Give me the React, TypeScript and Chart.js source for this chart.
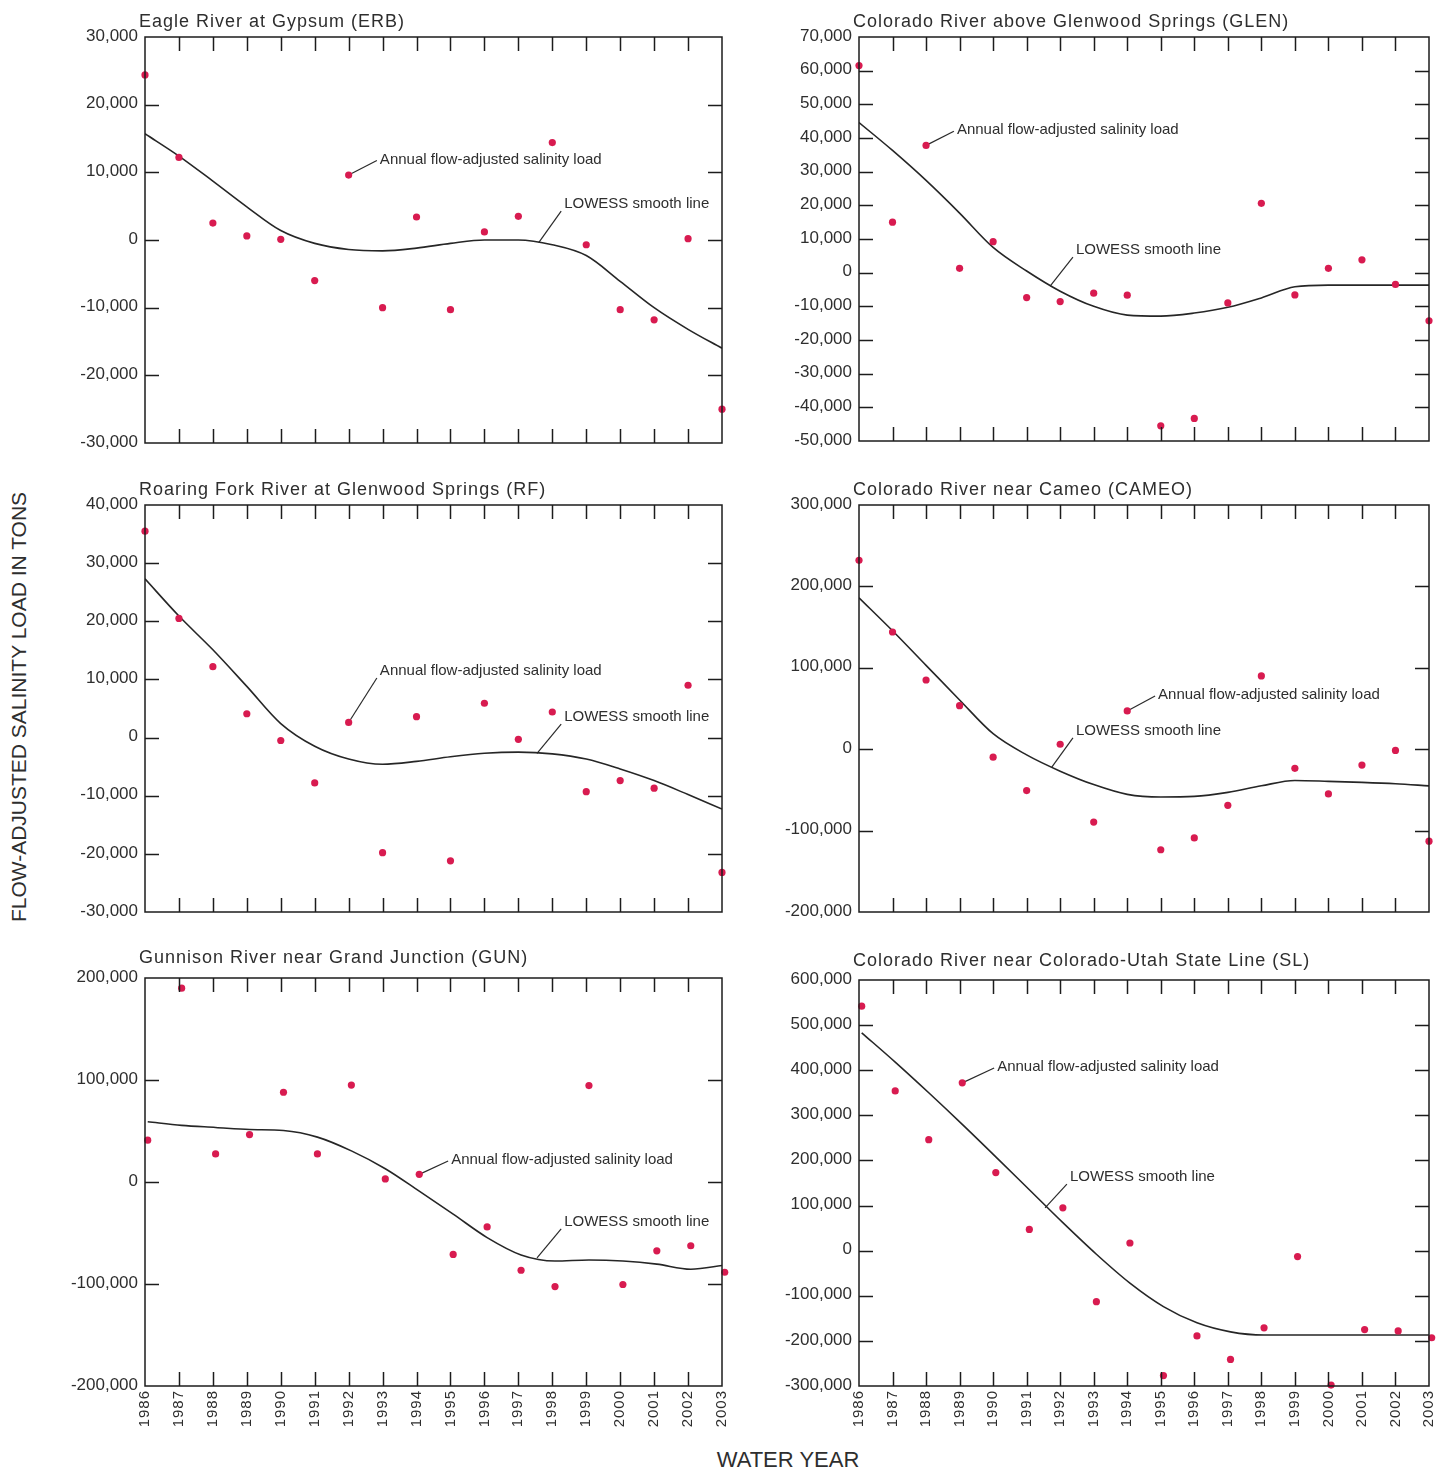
import React, { useEffect, useRef } from "react";
import { Chart, registerables } from "chart.js";

Chart.register(...registerables);

// ---------------- data ----------------
const years = [1986, 1987, 1988, 1989, 1990, 1991, 1992, 1993, 1994, 1995, 1996, 1997, 1998, 1999, 2000, 2001, 2002, 2003];

const erbLoad = [24400, 12200, 2500, 600, 100, -6000, 9600, -10000, 3400, -10300, 1200, 3500, 14400, -700, -10300, -11800, 200, -25000];
const erbLowess = [15700, 12400, 8700, 4900, 1400, -500, -1400, -1600, -1200, -500, 0, 0, -700, -2300, -6100, -10000, -13200, -16000];

const glenLoad = [61500, 15000, 37800, 1300, 9200, -7400, -8600, -6100, -6700, -45500, -43300, -9000, 20600, -6600, 1300, 3800, -3500, -14300];
const glenLowess = [44600, 36300, 27400, 17700, 7500, 500, -5500, -10000, -12600, -12900, -12000, -10300, -7500, -4200, -3700, -3700, -3700, -3700];

const rfLoad = [35500, 20500, 12200, 4100, -500, -7800, 2600, -19800, 3600, -21200, 5900, -300, 4400, -9300, -7400, -8700, 9000, -23200];
const rfLowess = [27300, 20900, 15100, 8800, 2400, -1500, -3700, -4600, -4100, -3300, -2700, -2500, -2800, -3700, -5400, -7400, -9800, -12300];

const cameoLoad = [232000, 144000, 85000, 53500, -9800, -50800, 6100, -89500, 47000, -123500, -109000, -69000, 90000, -23500, -55000, -19500, -1500, -113000];
const cameoLowess = [186000, 145500, 103000, 60500, 19000, -7000, -27000, -43500, -55500, -58800, -58000, -53000, -45000, -38500, -39500, -40800, -42500, -45000];

const gunLoad = [41000, 190000, 27500, 46500, 88000, 27500, 95000, 3000, 7500, -71000, -44000, -86500, -102500, 94500, -100500, -67500, -62500, -88500];
const gunLowess = [59000, 55500, 53500, 51500, 50500, 44000, 30500, 13000, -9000, -31500, -54500, -71500, -77500, -76500, -77500, -80500, -85500, -81500];

const slLoad = [542000, 354000, 246000, 372000, 173000, 47000, 95000, -113000, 17000, -277000, -189000, -241000, -171000, -13000, -298000, -175000, -178000, -193000];
const slLowess = [483000, 418000, 350000, 280000, 208000, 135000, 62000, -8000, -72000, -124000, -160000, -180000, -187000, -187000, -187000, -187000, -187000, -187000];

const LOAD_LABEL = "Annual flow-adjusted salinity load";
const LOWESS_LABEL = "LOWESS smooth line";

type Note = { text: string; tx: number; ty: number; px: number; py: number; from: "mid" | "bottom" };

const erbNotes: Note[] = [
  { text: LOAD_LABEL, tx: 1992.92, ty: 11900, px: 1992, py: 9600, from: "mid" },
  { text: LOWESS_LABEL, tx: 1998.35, ty: 5300, px: 1997.6, py: -400, from: "bottom" },
];
const glenNotes: Note[] = [
  { text: LOAD_LABEL, tx: 1988.92, ty: 42300, px: 1988, py: 37800, from: "mid" },
  { text: LOWESS_LABEL, tx: 1992.47, ty: 6700, px: 1991.7, py: -4000, from: "bottom" },
];
const rfNotes: Note[] = [
  { text: LOAD_LABEL, tx: 1992.92, ty: 11450, px: 1992, py: 2600, from: "bottom" },
  { text: LOWESS_LABEL, tx: 1998.35, ty: 3500, px: 1997.55, py: -2700, from: "bottom" },
];
const cameoNotes: Note[] = [
  { text: LOAD_LABEL, tx: 1994.92, ty: 66600, px: 1994, py: 47000, from: "mid" },
  { text: LOWESS_LABEL, tx: 1992.47, ty: 22400, px: 1991.75, py: -22000, from: "bottom" },
];
const gunNotes: Note[] = [
  { text: LOAD_LABEL, tx: 1995.02, ty: 21600, px: 1994.08, py: 7500, from: "mid" },
  { text: LOWESS_LABEL, tx: 1998.35, ty: -39200, px: 1997.55, py: -74500, from: "bottom" },
];
const slNotes: Note[] = [
  { text: LOAD_LABEL, tx: 1990.12, ty: 407000, px: 1989.08, py: 372000, from: "mid" },
  { text: LOWESS_LABEL, tx: 1992.29, ty: 163000, px: 1991.55, py: 95000, from: "bottom" },
];

// ---------------- layout / style ----------------
type Box = { left: number; top: number; right: number; bottom: number };
type PanelDef = {
  title: string;
  load: number[];
  lowess: number[];
  yMin: number;
  yMax: number;
  yStep: number;
  shift: number;
  notes: Note[];
  box: Box;
  showYears: boolean;
  titleDy: number;
};

const panels: PanelDef[] = [
  { title: "Eagle River at Gypsum (ERB)", load: erbLoad, lowess: erbLowess, yMin: -30000, yMax: 30000, yStep: 10000, shift: 0, notes: erbNotes, box: { left: 145, top: 37, right: 722, bottom: 443 }, showYears: false, titleDy: 10 },
  { title: "Colorado River above Glenwood Springs (GLEN)", load: glenLoad, lowess: glenLowess, yMin: -50000, yMax: 70000, yStep: 10000, shift: 0, notes: glenNotes, box: { left: 859, top: 37, right: 1429, bottom: 441 }, showYears: false, titleDy: 10 },
  { title: "Roaring Fork River at Glenwood Springs (RF)", load: rfLoad, lowess: rfLowess, yMin: -30000, yMax: 40000, yStep: 10000, shift: 0, notes: rfNotes, box: { left: 145, top: 505, right: 722, bottom: 912 }, showYears: false, titleDy: 10 },
  { title: "Colorado River near Cameo (CAMEO)", load: cameoLoad, lowess: cameoLowess, yMin: -200000, yMax: 300000, yStep: 100000, shift: 0, notes: cameoNotes, box: { left: 859, top: 505, right: 1429, bottom: 912 }, showYears: false, titleDy: 10 },
  { title: "Gunnison River near Grand Junction (GUN)", load: gunLoad, lowess: gunLowess, yMin: -200000, yMax: 200000, yStep: 100000, shift: 0.08, notes: gunNotes, box: { left: 145, top: 978, right: 722, bottom: 1386 }, showYears: true, titleDy: 15 },
  { title: "Colorado River near Colorado-Utah State Line (SL)", load: slLoad, lowess: slLowess, yMin: -300000, yMax: 600000, yStep: 100000, shift: 0.08, notes: slNotes, box: { left: 859, top: 980, right: 1429, bottom: 1386 }, showYears: true, titleDy: 14 },
];

const PAD_L = 100;
const PAD_T = 40;
const PAD_R = 14;
const TEXT = "#2e2e2e";
const INK = "#1c1c1c";
const DOT = "#d81b50";
const TICK_LEN = 14;

function makeDecor(p: PanelDef) {
  return {
    id: "panelDecor",
    beforeDatasetsDraw(chart: any) {
      const ctx = chart.ctx as CanvasRenderingContext2D;
      const xs = chart.scales.x;
      const ys = chart.scales.y;
      ctx.save();
      ctx.strokeStyle = "#2a2a2a";
      ctx.lineWidth = 1.2;
      for (const n of p.notes) {
        const sx = xs.getPixelForValue(n.tx) - 3;
        const sy = ys.getPixelForValue(n.ty) + (n.from === "bottom" ? 7 : 1);
        ctx.beginPath();
        ctx.moveTo(sx, sy);
        ctx.lineTo(xs.getPixelForValue(n.px), ys.getPixelForValue(n.py));
        ctx.stroke();
      }
      ctx.restore();
    },
    afterDraw(chart: any) {
      const ctx = chart.ctx as CanvasRenderingContext2D;
      const a = chart.chartArea;
      const xs = chart.scales.x;
      const ys = chart.scales.y;
      ctx.save();
      // frame
      ctx.strokeStyle = INK;
      ctx.lineWidth = 1.5;
      ctx.strokeRect(a.left, a.top, a.right - a.left, a.bottom - a.top);
      // inward ticks
      ctx.beginPath();
      for (const yr of years) {
        if (yr === years[0] || yr === years[years.length - 1]) continue;
        const x = Math.round(xs.getPixelForValue(yr)) + 0.5;
        ctx.moveTo(x, a.top);
        ctx.lineTo(x, a.top + TICK_LEN);
        ctx.moveTo(x, a.bottom);
        ctx.lineTo(x, a.bottom - TICK_LEN);
      }
      for (let v = p.yMin + p.yStep; v < p.yMax; v += p.yStep) {
        const y = Math.round(ys.getPixelForValue(v)) + 0.5;
        ctx.moveTo(a.left, y);
        ctx.lineTo(a.left + TICK_LEN, y);
        ctx.moveTo(a.right, y);
        ctx.lineTo(a.right - TICK_LEN, y);
      }
      ctx.stroke();

      // y tick labels
      ctx.fillStyle = TEXT;
      ctx.font = '17px "Liberation Sans", Arial, sans-serif';
      (ctx as any).letterSpacing = "0px";
      ctx.textAlign = "right";
      ctx.textBaseline = "middle";
      for (let v = p.yMin; v <= p.yMax; v += p.yStep) {
        ctx.fillText(v.toLocaleString("en-US"), a.left - 7, ys.getPixelForValue(v) - 1);
      }

      // year labels
      if (p.showYears) {
        ctx.font = '15px "Liberation Sans", Arial, sans-serif';
        (ctx as any).letterSpacing = "1px";
        for (const yr of years) {
          ctx.save();
          ctx.translate(xs.getPixelForValue(yr), a.bottom + 4);
          ctx.rotate(-Math.PI / 2);
          ctx.textAlign = "right";
          ctx.textBaseline = "middle";
          ctx.fillText(String(yr), 0, 0);
          ctx.restore();
        }
      }

      // title
      ctx.font = '18px "Liberation Sans", Arial, sans-serif';
      (ctx as any).letterSpacing = "1px";
      ctx.textAlign = "left";
      ctx.textBaseline = "alphabetic";
      ctx.fillText(p.title, a.left - 6, a.top - p.titleDy);

      // annotations
      ctx.font = '15px "Liberation Sans", Arial, sans-serif';
      (ctx as any).letterSpacing = "0px";
      ctx.textBaseline = "middle";
      for (const n of p.notes) {
        ctx.fillText(n.text, xs.getPixelForValue(n.tx), ys.getPixelForValue(n.ty));
      }
      ctx.restore();
    },
  };
}

function Panel({ p }: { p: PanelDef }) {
  const ref = useRef<HTMLCanvasElement | null>(null);
  const padB = p.showYears ? 50 : 14;
  const W = p.box.right - p.box.left + PAD_L + PAD_R;
  const H = p.box.bottom - p.box.top + PAD_T + padB;

  useEffect(() => {
    if (!ref.current) return;
    const chart = new Chart(ref.current, {
      type: "scatter",
      data: {
        datasets: [
          {
            type: "line",
            data: years.map((yr, i) => ({ x: yr + p.shift, y: p.lowess[i] })),
            borderColor: "#262626",
            borderWidth: 1.6,
            pointRadius: 0,
            cubicInterpolationMode: "monotone",
            fill: false,
            order: 2,
          } as any,
          {
            type: "scatter",
            data: years.map((yr, i) => ({ x: yr + p.shift, y: p.load[i] })),
            backgroundColor: DOT,
            borderColor: DOT,
            borderWidth: 0,
            pointRadius: 3.6,
            clip: false,
            order: 1,
          } as any,
        ],
      },
      options: {
        responsive: false,
        maintainAspectRatio: false,
        animation: false,
        events: [],
        layout: { padding: { left: PAD_L, top: PAD_T, right: PAD_R, bottom: padB } },
        plugins: {
          legend: { display: false },
          tooltip: { enabled: false },
          title: { display: false },
        },
        scales: {
          x: { type: "linear", display: false, min: 1986, max: 2003 },
          y: { type: "linear", display: false, min: p.yMin, max: p.yMax },
        },
      },
      plugins: [makeDecor(p) as any],
    });
    return () => chart.destroy();
  }, []);

  return (
    <canvas
      ref={ref}
      width={W}
      height={H}
      style={{ position: "absolute", left: p.box.left - PAD_L, top: p.box.top - PAD_T, width: W, height: H }}
    />
  );
}

export default function App() {
  return (
    <div style={{ position: "absolute", left: 0, top: 0, width: 1440, height: 1470, background: "#ffffff", overflow: "hidden" }}>
      {panels.map((p, i) => (
        <Panel key={i} p={p} />
      ))}
      <div
        style={{
          position: "absolute",
          left: 20 - 260,
          top: 707 - 13,
          width: 520,
          height: 26,
          lineHeight: "26px",
          textAlign: "center",
          transform: "rotate(-90deg)",
          transformOrigin: "50% 50%",
          font: '21px "Liberation Sans", Arial, sans-serif',
          color: TEXT,
          whiteSpace: "nowrap",
        }}
      >
        FLOW-ADJUSTED SALINITY LOAD IN TONS
      </div>
      <div
        style={{
          position: "absolute",
          left: 588,
          top: 1447,
          width: 400,
          height: 26,
          lineHeight: "26px",
          textAlign: "center",
          font: '22px "Liberation Sans", Arial, sans-serif',
          color: TEXT,
          whiteSpace: "nowrap",
        }}
      >
        WATER YEAR
      </div>
    </div>
  );
}
